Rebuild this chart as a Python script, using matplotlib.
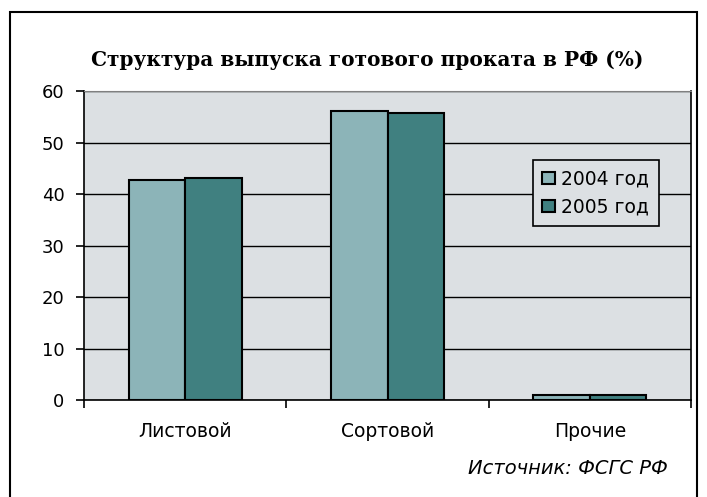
import numpy as np
import matplotlib.pyplot as plt
from matplotlib.patches import Rectangle

# данные
categories = ['Листовой', 'Сортовой', 'Прочие']
years = ['2004 год', '2005 год']
values_2004 = [42.8, 56.2, 1.0]
values_2005 = [43.2, 55.8, 1.0]
y_ticks = [0, 10, 20, 30, 40, 50, 60]

fig = plt.figure(figsize=(7.07, 4.97), dpi=100)
fig.patch.set_facecolor('white')

# рамка вокруг диаграммы
fig.patches.append(Rectangle((10 / 707, -0.1), 687 / 707, 1 - 12 / 497 + 0.1,
                             transform=fig.transFigure, fill=False,
                             edgecolor='black', linewidth=1.5))

ax = fig.add_axes([84 / 707, 1 - 400 / 497, 607 / 707, 309 / 497])
ax.set_facecolor('#DCE0E3')

x = np.arange(len(categories))
w = 0.28
ax.bar(x - w / 2, values_2004, w, color='#8CB4B8', edgecolor='black',
       linewidth=1.5, label=years[0], zorder=3)
ax.bar(x + w / 2, values_2005, w, color='#408080', edgecolor='black',
       linewidth=1.5, label=years[1], zorder=3)

ax.set_xlim(-0.5, 2.5)
ax.set_ylim(0, 60)
ax.set_yticks(y_ticks)
ax.set_yticklabels([str(v) for v in y_ticks], fontsize=13, family='DejaVu Sans')
ax.yaxis.grid(True, color='black', linewidth=1, zorder=0)

ax.set_xticks(x)
ax.set_xticklabels(categories, fontsize=13.5, family='DejaVu Sans')
ax.tick_params(axis='x', length=0, pad=16)
ax.set_xticks([-0.5, 0.5, 1.5, 2.5], minor=True)
ax.tick_params(axis='x', which='minor', length=6, width=1.2, direction='out')
ax.tick_params(axis='y', length=6, width=1.2, direction='out', pad=8)

for s in ['left', 'bottom', 'right']:
    ax.spines[s].set_color('black')
    ax.spines[s].set_linewidth(1.2)
ax.spines['top'].set_color('#808080')

leg = ax.legend(loc='upper left', bbox_to_anchor=(449 / 607, (400 - 160) / 309),
                frameon=True, fancybox=False, edgecolor='black',
                facecolor='#DCE0E3', framealpha=1,
                handlelength=0.65, handleheight=0.65, handletextpad=0.35,
                borderpad=0.5, labelspacing=0.5, borderaxespad=0,
                prop={'family': 'DejaVu Sans', 'size': 13.5})
leg.get_frame().set_linewidth(1.2)
leg.set_zorder(5)

fig.text(0.5 * (95 + 640) / 707, 1 - 60 / 497,
         'Структура выпуска готового проката в РФ (%)',
         ha='center', va='center', fontsize=14.5, fontweight='bold',
         family='DejaVu Serif')

fig.text(668 / 707, 1 - 469 / 497, 'Источник: ФСГС РФ', ha='right',
         va='center', fontsize=14, style='italic', family='DejaVu Sans')

fig.savefig('out.png', dpi=100)
